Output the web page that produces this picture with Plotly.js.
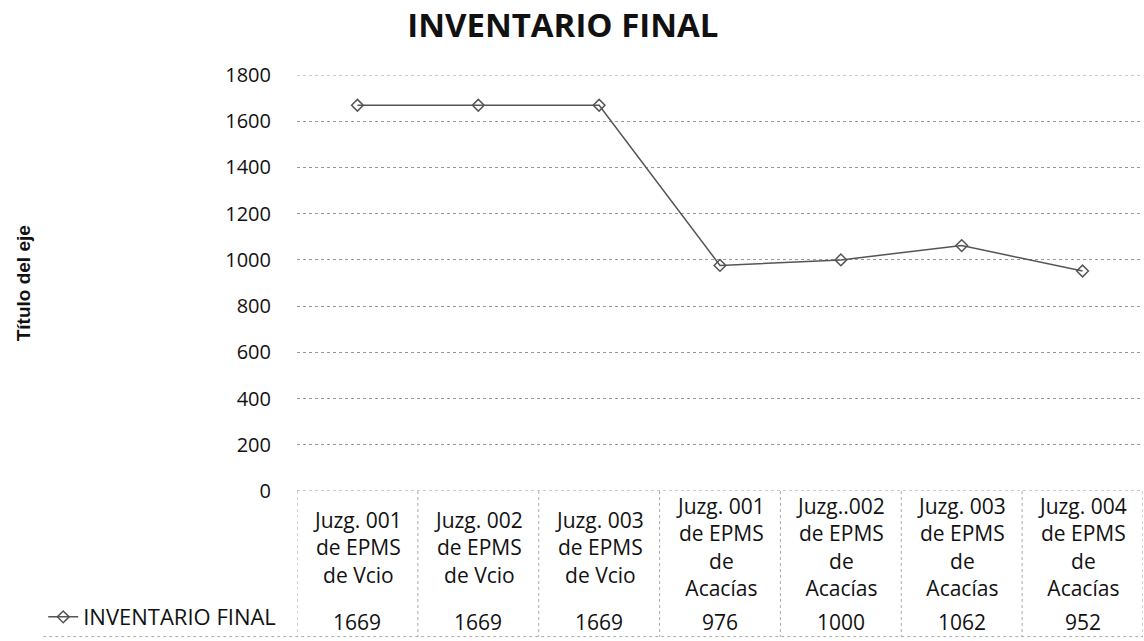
<!DOCTYPE html>
<html>
<head>
<meta charset="utf-8">
<script src="https://cdn.plot.ly/plotly-3.0.1.min.js"></script>
<style>html,body{margin:0;padding:0;background:#fff;}#chart{width:1144px;height:641px;}</style>
</head>
<body>
<div id="chart"></div>
<script>
const categories = [
  "Juzg. 001<br>de EPMS<br>de Vcio",
  "Juzg. 002<br>de EPMS<br>de Vcio",
  "Juzg. 003<br>de EPMS<br>de Vcio",
  "Juzg. 001<br>de EPMS<br>de<br>Acacías",
  "Juzg..002<br>de EPMS<br>de<br>Acacías",
  "Juzg. 003<br>de EPMS<br>de<br>Acacías",
  "Juzg. 004<br>de EPMS<br>de<br>Acacías"
];
const inventarioFinal = [1669, 1669, 1669, 976, 1000, 1062, 952];
const seriesName = "INVENTARIO FINAL";
const chartTitle = "INVENTARIO FINAL";
const yAxisTitle = "Título del eje";
const yTicks = [0, 200, 400, 600, 800, 1000, 1200, 1400, 1600, 1800];

const idx = categories.map((c, i) => i);
const font = "Open Sans, Liberation Sans, sans-serif";
const yMin = yTicks[0], yMax = yTicks[yTicks.length - 1];

const annotations = [];
categories.forEach((c, i) => {
  annotations.push({
    x: i, xref: 'x', y: -0.135, yref: 'paper',
    text: c, showarrow: false, yanchor: 'middle', xanchor: 'center', align: 'center',
    font: {family: font, size: 21, color: '#111'}
  });
  annotations.push({
    x: i, xref: 'x', y: -0.315, yref: 'paper',
    text: String(inventarioFinal[i]), showarrow: false, yanchor: 'middle', xanchor: 'center',
    font: {family: font, size: 21, color: '#111'}
  });
});
annotations.push({
  x: -0.3235, xref: 'paper', y: 0.5, yref: 'paper', text: '<b>' + yAxisTitle + '</b>',
  textangle: -90, showarrow: false, xanchor: 'center', yanchor: 'middle',
  font: {family: 'Liberation Sans Narrow, Arial Narrow, Liberation Sans, sans-serif', size: 19, color: '#111'}
});

const shapes = [];
for (let i = 0; i <= categories.length; i++) {
  shapes.push({
    type: 'line', xref: 'x', yref: 'paper', x0: i - 0.5, x1: i - 0.5, y0: 0, y1: -0.35,
    line: {color: '#aaa', width: 1, dash: 'dot'}
  });
}
shapes.push({
  type: 'line', xref: 'paper', yref: 'paper', x0: -0.3, x1: 1, y0: -0.35, y1: -0.35,
  line: {color: '#aaa', width: 1, dash: 'dot'}
});
[yMin, yMax].forEach(v => shapes.push({
  type: 'line', xref: 'paper', yref: 'y', x0: 0, x1: 1, y0: v, y1: v,
  line: {color: '#999', width: 1, dash: 'dot'}
}));

const trace = {
  x: idx, y: inventarioFinal, type: 'scatter', mode: 'lines+markers', name: seriesName,
  line: {color: '#555', width: 1.5},
  marker: {symbol: 'diamond-open', size: 9, color: '#555', line: {width: 1.5}}
};

const layout = {
  width: 1144, height: 641,
  margin: {l: 297, r: 1, t: 75, b: 150},
  paper_bgcolor: '#fff', plot_bgcolor: '#fff',
  title: {text: '<b>' + chartTitle + '</b>', x: 0.492, xref: 'container', xanchor: 'center',
          y: 0.961, yref: 'container', yanchor: 'middle',
          font: {family: font, size: 33, color: '#111'}},
  xaxis: {range: [-0.5, categories.length - 0.5], showticklabels: false, showgrid: false,
          zeroline: false, showline: false, ticks: ''},
  yaxis: {range: [yMin, yMax], tickvals: yTicks, ticktext: yTicks.map(String),
          showgrid: true, gridcolor: '#999', griddash: 'dot', gridwidth: 1,
          zeroline: false, showline: false, ticks: '', ticklabelstandoff: 25,
          tickfont: {family: font, size: 20, color: '#111'}},
  showlegend: true,
  legend: {x: -0.30, xanchor: 'left', y: -0.303, yanchor: 'middle', orientation: 'h',
           font: {family: font, size: 22, color: '#111'}, bgcolor: 'rgba(0,0,0,0)', itemwidth: 30},
  annotations: annotations,
  shapes: shapes
};

Plotly.newPlot('chart', [trace], layout, {displayModeBar: false, staticPlot: true});
</script>
</body>
</html>
